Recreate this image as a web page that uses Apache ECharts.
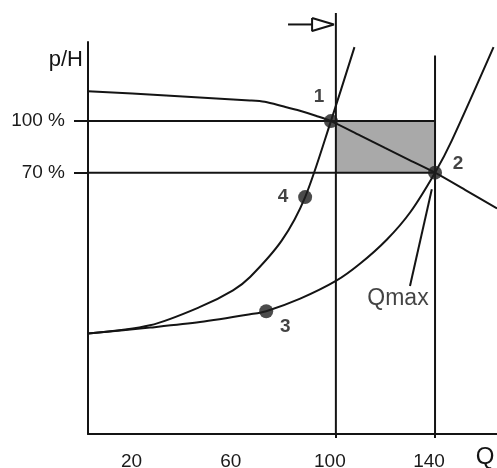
<!DOCTYPE html>
<html>
<head>
<meta charset="utf-8">
<script src="https://cdn.jsdelivr.net/npm/echarts@6/dist/echarts.min.js"></script>
<style>html,body{margin:0;padding:0;background:#fff}#c{width:497px;height:468px}</style>
</head>
<body>
<div id="c"></div>
<script>
// ---- data (Q in %, p/H in %) ----
const qTickLabels = [20, 60, 100, 140];
const hTickLabels = [70, 100];

const pumpQ = [0, 31.5, 65.3, 71.3, 78.6, 85.5, 91.9, 98, 109.7, 119.8, 129.9, 140, 152.1, 165];
const pumpH = [117.4, 114.9, 112.0, 111.2, 108.6, 106, 103.1, 100, 91.7, 84.4, 77.2, 70, 60, 49.2];

const sysAQ = [0, 25, 45.2, 58.5, 65.4, 78.2, 87.6, 98, 107.5];
const sysAH = [-23.6, -18.8, -8.1, 1.6, 9.3, 30.6, 55.8, 100, 143];

const sysBQ = [0, 25, 45.2, 65.4, 71.9, 85.6, 100, 109.7, 120.5, 130, 140, 146.8, 163.6];
const sysBH = [-23.6, -20.1, -16.9, -12.4, -10.6, -3.3, 7, 17, 31, 47, 70, 88.8, 143];

const pointNames = ['1', '2', '3', '4'];
const pointQ = [98, 140, 71.9, 87.6];
const pointH = [100, 70, -10.6, 55.8];

const qmaxLeaderQ = [129.9, 138.7];
const qmaxLeaderH = [4.1, 60.3];

const refQ = [100, 140];        // vertical reference lines
const refQTop = [162.8, 138.2];
const refH = [100, 70];         // horizontal reference lines

const arrowShaftQ = [80.7, 90.4];
const arrowShaftH = [156.2, 156.2];
const arrowHeadQ = [90.4, 99.2, 90.4, 90.4];
const arrowHeadH = [160.0, 156.2, 152.4, 160.0];

const yMin = -82, yMax = 146, xMin = 0, xMax = 165;

const zip = (a, b) => a.map((v, i) => [v, b[i]]);
const ink = '#141414';
const font = 'Liberation Sans, Arial, sans-serif';
const lineBase = { type: 'line', symbol: 'none', silent: true, animation: false, lineStyle: { color: ink, width: 2 } };

const labelOffsets = [[-12, -24], [23, -9], [19, 16], [-22, 0]];

const series = [];
// shaded area
series.push(Object.assign({}, lineBase, {
  data: [], z: 1,
  markArea: {
    silent: true,
    itemStyle: { color: '#a9a9a9' },
    data: [[{ coord: [refQ[0], refH[0]] }, { coord: [refQ[1], refH[1]] }]]
  }
}));
// horizontal reference lines
refH.forEach(h => series.push(Object.assign({}, lineBase, { z: 2, data: [[xMin, h], [refQ[1], h]] })));
// vertical reference lines
refQ.forEach((q, i) => series.push(Object.assign({}, lineBase, { z: 2, clip: false, data: [[q, refQTop[i]], [q, yMin]] })));
// curves
series.push(Object.assign({}, lineBase, { z: 3, smooth: 0.3, data: zip(pumpQ, pumpH) }));
series.push(Object.assign({}, lineBase, { z: 3, smooth: 0.3, clip: false, data: zip(sysAQ, sysAH) }));
series.push(Object.assign({}, lineBase, { z: 3, smooth: 0.3, clip: false, data: zip(sysBQ, sysBH) }));
// Qmax leader
series.push(Object.assign({}, lineBase, { z: 3, data: zip(qmaxLeaderQ, qmaxLeaderH) }));
// arrow
series.push(Object.assign({}, lineBase, { z: 3, clip: false, data: zip(arrowShaftQ, arrowShaftH) }));
series.push(Object.assign({}, lineBase, { z: 3, clip: false, data: zip(arrowHeadQ, arrowHeadH) }));
// operating points
series.push({
  type: 'scatter', z: 5, silent: true, animation: false,
  symbolSize: 14,
  itemStyle: { color: '#1e1e1e' },
  data: pointNames.map((n, i) => ({
    value: [pointQ[i], pointH[i]],
    label: {
      show: true, position: 'inside', formatter: n, offset: labelOffsets[i],
      color: ink, fontSize: 19, fontWeight: 'bold', fontFamily: font
    }
  }))
});
// Qmax text
series.push({
  type: 'scatter', z: 5, silent: true, animation: false, symbolSize: 0,
  data: [{
    value: [qmaxLeaderQ[0], qmaxLeaderH[0]],
    label: {
      show: true, position: 'inside', formatter: 'Qmax', offset: [-12, 13],
      color: ink, fontSize: 23, fontFamily: font
    }
  }]
});

const chart = echarts.init(document.getElementById('c'), null, { renderer: 'canvas' });
chart.setOption({
  backgroundColor: '#ffffff',
  animation: false,
  grid: { left: 88, right: 0, top: 42, bottom: 34, containLabel: false, outerBoundsMode: 'none' },
  xAxis: {
    type: 'value', min: xMin, max: xMax,
    name: 'Q', nameLocation: 'end', nameGap: -12,
    nameTextStyle: { color: ink, fontSize: 24, align: 'center', verticalAlign: 'top', lineHeight: 46, fontFamily: font },
    axisLine: { show: true, onZero: false, lineStyle: { color: ink, width: 2 } },
    axisTick: { show: true, customValues: [100, 140], length: 4, lineStyle: { color: ink, width: 2 } },
    axisLabel: { customValues: qTickLabels, margin: 18, padding: [0, 12, 0, 0], color: '#1a1a1a', fontSize: 19, fontFamily: font },
    splitLine: { show: false }
  },
  yAxis: {
    type: 'value', min: yMin, max: yMax,
    name: 'p/H', nameLocation: 'end', nameGap: -18,
    nameTextStyle: { color: ink, fontSize: 22, align: 'right', verticalAlign: 'middle', padding: [0, 5, 0, 0], fontFamily: font },
    axisLine: { show: true, onZero: false, lineStyle: { color: ink, width: 2 } },
    axisTick: { show: true, customValues: hTickLabels, length: 14, lineStyle: { color: ink, width: 2 } },
    axisLabel: { customValues: hTickLabels, formatter: '{value} %', margin: 23, color: '#1a1a1a', fontSize: 19, fontFamily: font },
    splitLine: { show: false }
  },
  series: series
});
</script>
</body>
</html>
